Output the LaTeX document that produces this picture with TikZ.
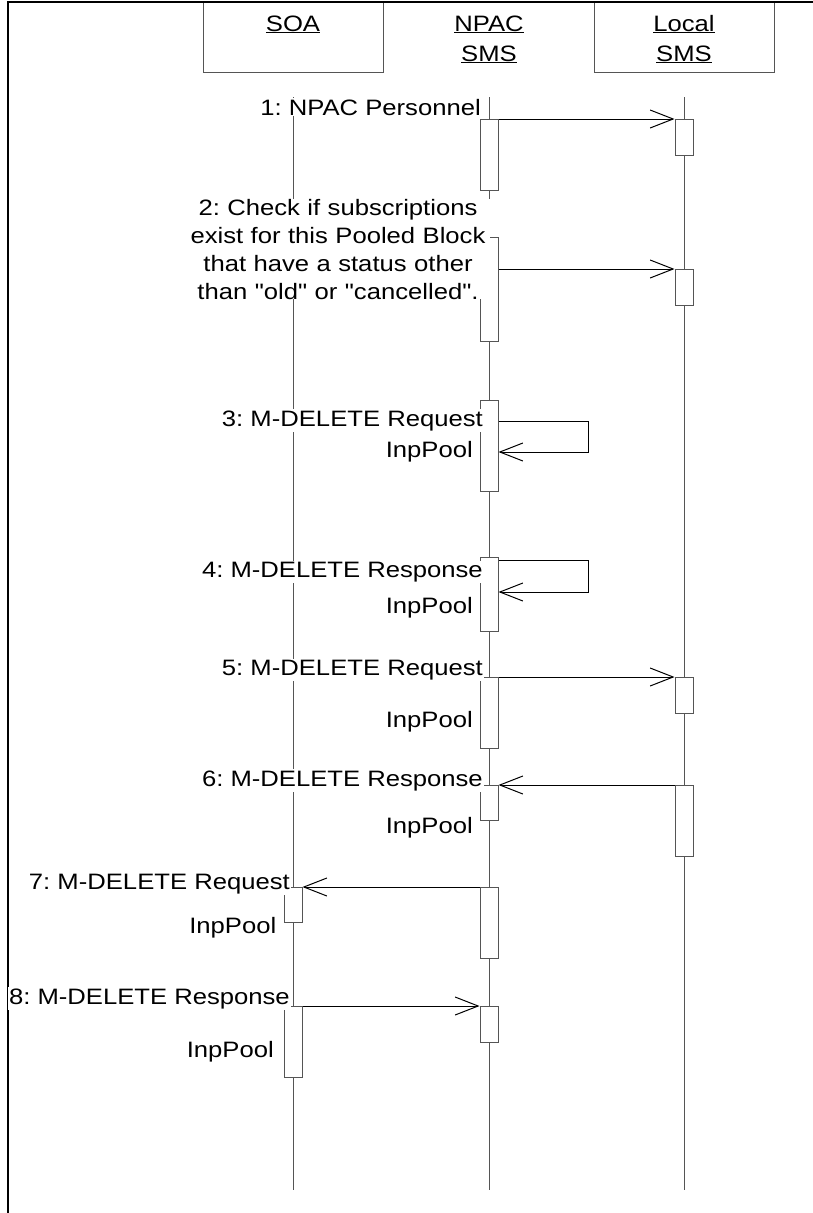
\documentclass[tikz,border=0pt]{standalone}
\usepackage{fontspec}
\newfontfamily\labfont{Liberation Sans}[FakeStretch=1.15]
\usetikzlibrary{arrows.meta}
\definecolor{lifecol}{RGB}{85,85,85}
\begin{document}
\begin{tikzpicture}[x=1pt,y=-1pt,
  every node/.style={font=\labfont\fontsize{22.3pt}{28pt}\selectfont\frenchspacing},
  lifeline/.style={draw=lifecol, line width=1pt},
  actbox/.style={draw=lifecol, fill=white, line width=1pt, minimum width=18pt, inner sep=0pt, anchor=north},
  msg/.style={draw=black, line width=1pt, -{Straight Barb[length=23pt,width=18pt,line width=1pt]}},
  lbl/.style={fill=white, inner xsep=1pt, inner ysep=1pt, anchor=base east},
  lblblock/.style={fill=white, inner sep=0pt, anchor=base, text width=304pt, align=center},
  objbox/.style={draw=lifecol, line width=1pt, minimum width=180pt, minimum height=70pt, anchor=north, inner sep=0pt},
  objtext/.style={font=\labfont\fontsize{22.3pt}{30pt}\selectfont, anchor=base, inner sep=0pt, text width=120pt, align=center}
]
\fill[white] (0,0) rectangle (813,1213);
\useasboundingbox (0,0) rectangle (813,1213);

% object boxes
\node[objbox] (soa) at (293,2) {};
\node[objbox] (local) at (684,2) {};
\node[objtext] (soat) at (293,31) {\underline{SOA}};
\node[objtext] (npact) at (489,31) {\underline{NPAC}\\\underline{SMS}};
\node[objtext] (localt) at (684,31) {\underline{Local}\\\underline{SMS}};

% frame
\draw[line width=2pt] (813,2) -- (8,2) -- (8,1213);

% lifelines
\coordinate (soaT) at (293,97);  \coordinate (soaB) at (293,1190);
\coordinate (npacT) at (489,97); \coordinate (npacB) at (489,1190);
\coordinate (locT) at (684,97);  \coordinate (locB) at (684,1190);
\draw[lifeline] (soaT) -- (soaB);
\draw[lifeline] (npacT) -- (npacB);
\draw[lifeline] (locT) -- (locB);

% activations
\node[actbox, minimum height=71pt]  (n1) at (489,119) {};
\node[actbox, minimum height=36pt]  (l1) at (684,119) {};
\node[actbox, minimum height=104pt] (n2) at (489,237) {};
\node[actbox, minimum height=36pt]  (l2) at (684,269) {};
\node[actbox, minimum height=91pt]  (n3) at (489,400) {};
\node[actbox, minimum height=74pt]  (n4) at (489,557) {};
\node[actbox, minimum height=71pt]  (n5) at (489,677) {};
\node[actbox, minimum height=36pt]  (l5) at (684,677) {};
\node[actbox, minimum height=35pt]  (n6) at (489,785) {};
\node[actbox, minimum height=71pt]  (l6) at (684,785) {};
\node[actbox, minimum height=71pt]  (n7) at (489,887) {};
\node[actbox, minimum height=35pt]  (s7) at (293,887) {};
\node[actbox, minimum height=36pt]  (n8) at (489,1006) {};
\node[actbox, minimum height=71pt]  (s8) at (293,1006) {};

% messages
\draw[msg] (n1.north east) -- (l1.north west);
\draw[msg] (n2.east |- l2.north) -- (l2.north west);
\coordinate (c3a) at (588,421); \coordinate (c3b) at (588,452);
\draw[msg] (n3.east |- c3a) -- (c3a) -- (c3b) -- (n3.east |- c3b);
\coordinate (c4a) at (588,560); \coordinate (c4b) at (588,592);
\draw[msg] (n4.east |- c4a) -- (c4a) -- (c4b) -- (n4.east |- c4b);
\draw[msg] (n5.north east) -- (l5.north west);
\draw[msg] (l6.north west) -- (n6.north east);
\draw[msg] (n7.north west) -- (s7.north east);
\draw[msg] (s8.north east) -- (n8.north west);

% labels
\node[lbl] (m1) at (482,115) {1: NPAC Personnel};
\node[lblblock] (m2) at (338,215) {2: Check if subscriptions\\exist for this Pooled Block\\that have a status other\\than "old" or "cancelled".};
\node[lbl] (m3) at (484,426) {3: M-DELETE Request};
\node[lbl] (o3) at (474,457) {InpPool};
\node[lbl] (m4) at (484,577) {4: M-DELETE Response};
\node[lbl] (o4) at (474,613) {InpPool};
\node[lbl] (m5) at (484,675) {5: M-DELETE Request};
\node[lbl] (o5) at (474,727) {InpPool};
\node[lbl] (m6) at (484,786) {6: M-DELETE Response};
\node[lbl] (o6) at (474,833) {InpPool};
\node[lbl] (m7) at (291,889) {7: M-DELETE Request};
\node[lbl] (o7) at (277.5,933) {InpPool};
\node[lbl] (m8) at (291,1004) {8: M-DELETE Response};
\node[lbl] (o8) at (275,1057) {InpPool};
\end{tikzpicture}
\end{document}
